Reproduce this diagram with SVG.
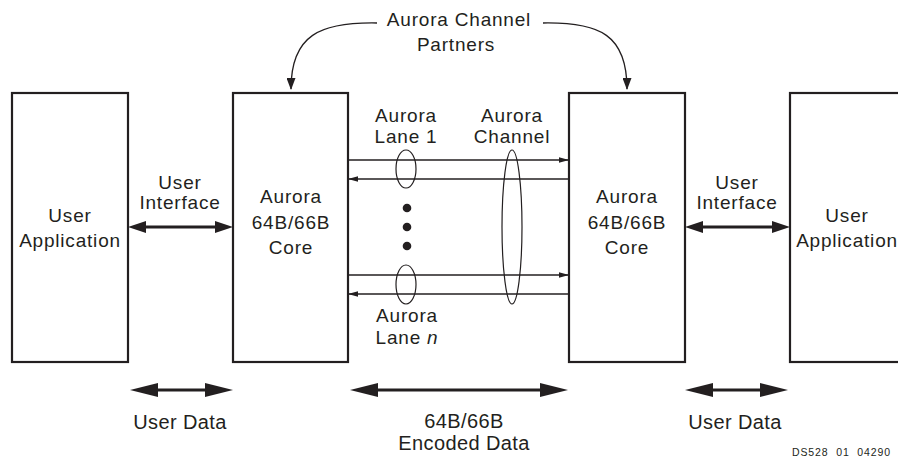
<svg xmlns="http://www.w3.org/2000/svg" width="898" height="459" viewBox="0 0 898 459">
<style>
.box{fill:#fff;stroke:#231f20;stroke-width:2.2}
.t{font-family:"Liberation Sans",Arial,sans-serif;font-size:19px;letter-spacing:0.8px;fill:#231f20;text-anchor:middle}
.tb{font-family:"Liberation Sans",Arial,sans-serif;font-size:20px;letter-spacing:0.4px;fill:#231f20;text-anchor:middle}
.thin{stroke:#231f20;stroke-width:1.3;fill:none}
.thick{stroke:#231f20;stroke-width:3;fill:none}
.ell{fill:none;stroke:#231f20;stroke-width:1.2}
</style>
<defs>
<marker id="mThick" markerUnits="userSpaceOnUse" viewBox="0 0 18 12" refX="10" refY="6" markerWidth="18" markerHeight="12" orient="auto-start-reverse"><path d="M0,0 L18,6 L0,12 z" fill="#231f20"/></marker>
<marker id="mBig" markerUnits="userSpaceOnUse" viewBox="0 0 28 14" refX="18" refY="7" markerWidth="28" markerHeight="14" orient="auto-start-reverse"><path d="M0,0 L28,7 L0,14 z" fill="#231f20"/></marker>
<marker id="mThin" markerUnits="userSpaceOnUse" viewBox="0 0 10 6" refX="9" refY="3" markerWidth="10" markerHeight="6" orient="auto"><path d="M0,0.2 L10,3 L0,5.8 z" fill="#231f20"/></marker>
<marker id="mCurve" markerUnits="userSpaceOnUse" viewBox="0 0 12 9" refX="11" refY="4.5" markerWidth="12" markerHeight="9" orient="auto"><path d="M0,0 L12,4.5 L0,9 z" fill="#231f20"/></marker>
</defs>

<g id="userAppLeft">
<rect class="box" x="12" y="93" width="116" height="269"/>
<text class="t" x="70" y="222">User</text>
<text class="t" x="70" y="247">Application</text>
</g>
<g id="coreLeft">
<rect class="box" x="233" y="93" width="115" height="269"/>
<text class="t" x="291" y="203">Aurora</text>
<text class="t" x="291" y="229">64B/66B</text>
<text class="t" x="291" y="254">Core</text>
</g>
<g id="coreRight">
<rect class="box" x="569" y="93" width="116" height="269"/>
<text class="t" x="627" y="203">Aurora</text>
<text class="t" x="627" y="229">64B/66B</text>
<text class="t" x="627" y="254">Core</text>
</g>
<g id="userAppRight">
<rect class="box" x="790" y="93" width="130" height="269"/>
<text class="t" x="847" y="222">User</text>
<text class="t" x="847" y="247">Application</text>
</g>

<g id="labels">
<text class="t" x="459" y="26">Aurora Channel</text>
<text class="t" x="456" y="51">Partners</text>
<text class="t" x="180" y="189">User</text>
<text class="t" x="180" y="209">Interface</text>
<text class="t" x="737" y="189">User</text>
<text class="t" x="737" y="209">Interface</text>
<text class="t" x="406" y="122">Aurora</text>
<text class="t" x="406" y="143">Lane 1</text>
<text class="t" x="512" y="122">Aurora</text>
<text class="t" x="512" y="143">Channel</text>
<text class="t" x="407" y="322">Aurora</text>
<text class="t" x="407" y="344">Lane <tspan font-style="italic">n</tspan></text>
<text class="tb" x="180" y="429">User Data</text>
<text class="tb" x="464" y="428">64B/66B</text>
<text class="tb" x="464" y="450">Encoded Data</text>
<text class="tb" x="735" y="429">User Data</text>
<text font-family="Liberation Sans, Arial, sans-serif" font-size="10.5" fill="#231f20" text-anchor="end" x="891" y="456" letter-spacing="0.9" xml:space="preserve">DS528  01  04290</text>
</g>

<g id="connectors">
<path class="thin" d="M377,23 C320,22 291,35 291,89" marker-end="url(#mCurve)"/>
<path class="thin" d="M543,23 C600,22 627,35 627,89" marker-end="url(#mCurve)"/>
<line class="thick" x1="136" y1="227" x2="225" y2="227" marker-start="url(#mThick)" marker-end="url(#mThick)"/>
<line class="thick" x1="693" y1="227" x2="782" y2="227" marker-start="url(#mThick)" marker-end="url(#mThick)"/>
<line class="thin" x1="349" y1="160" x2="568" y2="160" marker-end="url(#mThin)"/>
<line class="thin" x1="568" y1="179" x2="349" y2="179" marker-end="url(#mThin)"/>
<line class="thin" x1="349" y1="275" x2="568" y2="275" marker-end="url(#mThin)"/>
<line class="thin" x1="568" y1="294" x2="349" y2="294" marker-end="url(#mThin)"/>
<ellipse class="ell" cx="406" cy="169" rx="10" ry="19"/>
<ellipse class="ell" cx="406" cy="284.5" rx="10" ry="19.5"/>
<ellipse class="ell" cx="512" cy="227" rx="10" ry="77"/>
<circle cx="407" cy="208" r="4.3" fill="#231f20"/>
<circle cx="407" cy="227" r="4.3" fill="#231f20"/>
<circle cx="407" cy="246" r="4.3" fill="#231f20"/>
<line class="thick" x1="140" y1="390" x2="223" y2="390" marker-start="url(#mBig)" marker-end="url(#mBig)"/>
<line class="thick" x1="360" y1="390" x2="558" y2="390" marker-start="url(#mBig)" marker-end="url(#mBig)"/>
<line class="thick" x1="695" y1="390" x2="778" y2="390" marker-start="url(#mBig)" marker-end="url(#mBig)"/>
</g>
</svg>
